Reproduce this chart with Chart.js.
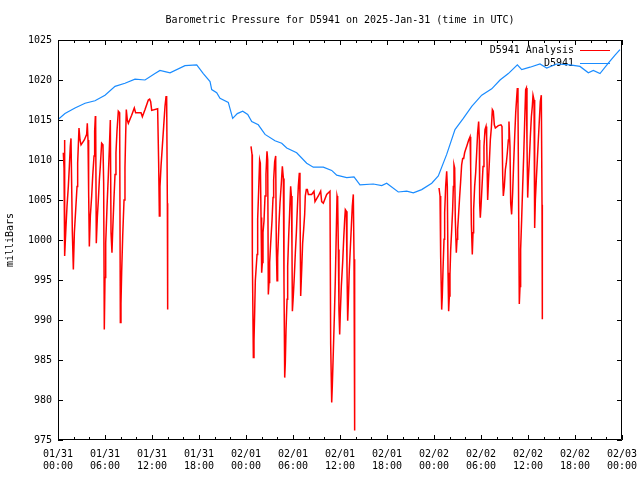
<!DOCTYPE html>
<html>
<head>
<meta charset="utf-8">
<script src="https://cdn.jsdelivr.net/npm/chart.js@4"></script>
<style>
  html, body { margin: 0; padding: 0; background: #fff; }
</style>
</head>
<body>
<canvas id="pressureChart" width="640" height="480"></canvas>
<script>
// ------------------- Data (hours since 2025-01-31 00:00 UTC, milliBars) -------------------
const titleText = "Barometric Pressure for D5941 on 2025-Jan-31 (time in UTC)";
const dayLabels = ["01/31", "02/01", "02/02", "02/03"];
const yTicks = [975, 980, 985, 990, 995, 1000, 1005, 1010, 1015, 1020, 1025];

// analysis series, null marks a gap with no data
const analysisHours = [
  0.68,0.77,0.81,0.89,1.02,1.15,1.32,1.45,1.57,1.66,1.83,1.96,2.09,2.26,2.43,2.51,2.68,2.81,2.94,3.36,
  3.66,3.74,3.83,3.91,4.00,4.13,4.30,4.43,4.60,4.68,4.77,4.81,4.89,5.02,5.15,5.28,5.40,5.57,5.74,5.83,
  5.91,6.00,6.09,6.26,6.43,6.55,6.68,6.77,6.89,6.98,7.15,7.28,7.40,7.53,7.70,7.87,7.96,8.04,8.13,8.26,
  8.43,8.55,8.64,8.72,8.85,8.98,9.40,9.74,9.91,10.60,10.77,11.11,11.53,11.70,11.83,11.96,12.72,12.85,12.94,13.02,
  13.15,13.32,13.49,13.66,13.79,13.87,13.96,14.00,
  18,
  24.64,24.77,24.81,24.94,25.02,25.11,25.19,25.41,25.49,25.62,25.74,25.83,25.92,26.00,26.09,26.17,26.30,26.43,26.55,26.68,
  26.77,26.85,26.94,27.02,27.15,27.32,27.45,27.53,27.66,27.79,27.87,27.96,28.04,28.21,28.34,28.51,28.64,28.77,28.85,28.94,
  29.02,29.11,29.24,29.32,29.45,29.57,29.70,29.79,29.87,29.92,30.04,30.17,30.30,30.43,30.55,30.68,30.81,30.89,30.98,31.11,
  31.23,31.36,31.49,31.57,31.70,31.83,31.96,32.38,32.68,32.81,33.23,33.53,33.66,33.87,34.30,34.72,34.81,34.94,35.02,35.15,
  35.28,35.40,35.49,35.62,35.70,35.79,35.87,35.96,36.04,36.17,36.34,36.47,36.60,36.68,36.81,36.89,36.98,37.06,37.19,37.32,
  37.45,37.57,37.70,37.79,37.87,
  42,
  48.64,48.77,48.85,48.98,49.06,49.15,49.28,49.36,49.49,49.62,49.70,49.79,49.87,49.96,50.04,50.13,50.26,50.38,50.47,50.55,
  50.64,50.72,50.85,50.94,51.02,51.15,51.28,51.40,51.53,51.66,51.79,51.91,52.04,52.17,52.30,52.43,52.60,52.68,52.77,52.89,
  52.98,53.06,53.19,53.32,53.45,53.57,53.70,53.79,53.83,53.91,54.00,54.13,54.26,54.38,54.51,54.64,54.72,54.85,54.94,55.06,
  55.19,55.32,55.45,55.57,55.70,55.83,56.21,56.55,56.68,56.77,56.85,56.98,57.11,57.23,57.36,57.49,57.57,57.70,57.79,57.91,
  58.04,58.17,58.30,58.43,58.55,58.64,58.72,58.81,58.89,58.98,59.06,59.19,59.32,59.45,59.57,59.70,59.79,59.87,59.96,60.04,
  60.17,60.30,60.43,60.55,60.64,60.77,60.85,60.94,61.06,61.19,61.32,61.45,61.57,61.70,61.79,61.83
];
const analysisMb = [
  1010.9,1009.0,1012.5,998.0,1001.7,1004.2,1006.7,1009.2,1011.7,1012.7,1001.0,996.3,1000.9,1003.8,1006.7,1009.6,1014.0,1012.5,1011.9,1012.5,
  1013.2,1014.6,1012.5,1006.1,999.2,1003.0,1005.5,1008.0,1010.5,1013.6,1015.5,1014.4,999.6,1002.8,1005.0,1007.5,1009.2,1012.1,1011.9,1007.1,
  988.8,995.3,999.6,1004.2,1008.2,1011.3,1015.0,1000.9,998.4,1001.1,1005.3,1008.2,1010.9,1013.6,1016.1,1015.9,989.7,992.0,996.1,1000.5,
  1005.0,1009.0,1013.2,1016.3,1015.0,1014.6,1015.6,1016.5,1015.9,1015.9,1015.4,1016.3,1017.5,1017.6,1017.3,1016.2,1016.4,1009.6,1003.0,1006.7,
  1009.2,1011.7,1014.2,1016.7,1017.9,1018.0,1004.6,991.3,
  null,
  1011.7,1010.7,998.0,985.3,987.4,991.1,994.9,998.2,1002.6,1006.3,1010.0,1009.6,1002.8,995.9,997.2,1000.9,1002.4,1005.5,1008.2,1011.1,
  1010.0,993.2,994.7,997.2,999.6,1002.4,1005.3,1007.5,1009.8,1010.5,999.2,994.9,997.8,1002.1,1004.6,1007.1,1009.2,1007.7,994.7,982.8,
  984.7,988.8,992.6,996.7,1000.5,1003.4,1006.7,1005.5,999.0,991.1,993.0,995.5,998.4,1000.9,1003.8,1006.7,1008.4,1005.5,993.0,996.3,
  999.6,1001.3,1003.2,1005.5,1006.3,1006.3,1005.7,1005.7,1006.1,1004.8,1005.5,1006.1,1004.8,1004.6,1005.7,1006.1,987.0,979.7,981.8,986.1,
  990.5,994.9,999.2,1005.5,1005.1,998.8,991.1,988.2,990.9,994.2,997.2,1000.1,1002.6,1003.8,1003.6,996.7,989.9,992.2,996.3,999.0,
  1001.7,1004.2,1005.7,997.6,976.2,
  null,
  1006.5,1005.5,998.0,991.3,993.0,996.3,1000.1,1003.4,1006.7,1008.6,1006.7,995.9,991.1,993.0,995.7,998.8,1001.3,1003.8,1006.7,1009.4,
  1009.0,1002.6,998.4,1000.1,1001.3,1003.4,1005.5,1007.3,1009.4,1010.2,1010.2,1010.9,1011.3,1011.7,1012.1,1012.5,1012.9,1009.2,1001.9,998.2,
  1000.9,1003.8,1006.7,1008.4,1010.9,1013.4,1014.8,1012.5,1004.6,1002.8,1004.2,1006.7,1009.2,1011.7,1013.8,1014.2,1012.9,1005.0,1007.1,1009.6,
  1012.5,1014.0,1016.3,1016.1,1014.4,1014.0,1014.3,1014.4,1014.2,1008.0,1005.5,1006.7,1008.8,1009.6,1010.9,1012.5,1014.8,1011.7,1004.6,1003.2,
  1005.9,1009.6,1012.9,1015.9,1017.7,1019.0,1017.1,1003.4,992.0,994.2,998.8,1002.6,1006.7,1010.5,1014.6,1018.8,1019.0,1012.1,1005.3,1007.5,
  1010.0,1012.9,1015.4,1016.7,1018.1,1017.5,1001.5,1005.0,1007.5,1010.0,1012.5,1015.0,1017.3,1018.1,1004.4,990.1
];

// station series
const stationHours = [
  0.04,0.89,2.17,3.45,4.72,6.00,7.28,8.55,9.83,11.11,12.38,13.02,14.30,16.21,17.71,18.55,19.41,19.62,20.26,20.68,
  21.74,22.30,22.89,23.58,24.22,24.73,25.57,26.43,27.70,28.56,29.20,30.47,31.75,32.59,33.87,34.94,35.58,36.86,37.79,38.55,
  40.25,41.33,41.96,43.44,44.52,45.36,46.43,47.71,48.55,49.62,50.68,51.74,52.82,54.09,55.37,56.43,57.49,58.64,59.20,60.26,
  61.53,62.39,63.66,65.36,66.64,67.70,68.34,69.19,70.25,71.11,71.74
];
const stationMb = [
  1015.1,1015.8,1016.5,1017.1,1017.4,1018.1,1019.2,1019.6,1020.1,1020.0,1020.8,1021.2,1020.9,1021.8,1021.9,1020.8,1019.8,1018.8,1018.4,1017.7,
  1017.2,1015.2,1015.8,1016.1,1015.7,1014.8,1014.4,1013.2,1012.4,1012.1,1011.5,1010.9,1009.6,1009.1,1009.1,1008.7,1008.1,1007.8,1007.9,1006.9,
  1007.0,1006.8,1007.1,1006.0,1006.1,1005.9,1006.3,1007.1,1008.0,1010.7,1013.8,1015.2,1016.7,1018.1,1018.9,1020.0,1020.8,1021.9,1021.3,1021.6,
  1022.0,1021.5,1022.0,1021.9,1021.7,1020.9,1021.2,1020.8,1022.1,1023.1,1023.8
];

const FONT = { family: "'DejaVu Sans Mono', 'Liberation Mono', monospace", size: 10 };

// ------------------- Plugins: title, legend inside plot, frame with inward ticks -------------------
const gnuplotLook = {
  id: 'gnuplotLook',
  beforeDatasetsDraw(chart) {
    const { ctx, chartArea: a } = chart;
    ctx.save();
    ctx.font = FONT.size + "px " + FONT.family;
    ctx.fillStyle = "#000";
    ctx.textAlign = "center";
    ctx.textBaseline = "middle";
    ctx.fillText(titleText, (a.left + a.right) / 2, 20);

    // key, top right
    ctx.textAlign = "right";
    chart.data.datasets.forEach((ds, i) => {
      const yy = 50 + i * 13;
      ctx.fillStyle = "#000";
      ctx.fillText(ds.label, a.right - 48, yy);
      ctx.strokeStyle = ds.borderColor;
      ctx.lineWidth = 1;
      ctx.beginPath();
      ctx.moveTo(a.right - 42, Math.round(yy) + 0.5);
      ctx.lineTo(a.right - 12, Math.round(yy) + 0.5);
      ctx.stroke();
    });
    ctx.restore();
  },
  afterDatasetsDraw(chart) {
    const { ctx, chartArea: a, scales } = chart;
    ctx.save();
    ctx.strokeStyle = "#000";
    ctx.lineWidth = 1;
    ctx.beginPath();
    ctx.rect(a.left + 0.5, a.top + 0.5, a.right - a.left - 1, a.bottom - a.top - 1);
    scales.x.ticks.forEach(t => {
      const px = Math.round(scales.x.getPixelForValue(t.value)) + 0.5;
      const len = t.value % 6 === 0 ? 5 : 3;
      ctx.moveTo(px, a.bottom); ctx.lineTo(px, a.bottom - len);
      ctx.moveTo(px, a.top); ctx.lineTo(px, a.top + len);
    });
    scales.y.ticks.forEach(t => {
      const py = Math.round(scales.y.getPixelForValue(t.value)) + 0.5;
      ctx.moveTo(a.left, py); ctx.lineTo(a.left + 5, py);
      ctx.moveTo(a.right, py); ctx.lineTo(a.right - 5, py);
    });
    ctx.stroke();
    ctx.restore();
  }
};

const ctx = document.getElementById("pressureChart").getContext("2d");
new Chart(ctx, {
  type: 'line',
  data: {
    datasets: [{
      label: "D5941 Analysis",
      data: analysisHours.map((h, i) => ({ x: h, y: analysisMb[i] })),
      borderColor: "#ff0000",
      borderWidth: 1.5,
      pointRadius: 0,
      spanGaps: false,
      tension: 0
    }, {
      label: "D5941",
      data: stationHours.map((h, i) => ({ x: h, y: stationMb[i] })),
      borderColor: "#1a8cff",
      borderWidth: 1.2,
      pointRadius: 0,
      tension: 0
    }]
  },
  options: {
    responsive: false,
    animation: false,
    layout: { padding: { top: 40, right: 18, left: 0, bottom: 0 } },
    plugins: { legend: { display: false }, title: { display: false }, tooltip: { enabled: false } },
    scales: {
      x: {
        type: 'linear',
        min: 0,
        max: 72,
        grid: { display: false, drawTicks: false },
        border: { display: false },
        afterFit: s => { s.height = 40; s.paddingLeft = 0; s.paddingRight = 0; },
        afterBuildTicks: s => {
          s.ticks = [];
          for (let h = 0; h <= 72; h += 2) s.ticks.push({ value: h });
        },
        ticks: {
          autoSkip: false,
          maxRotation: 0,
          padding: 8,
          color: "#000",
          font: FONT,
          callback: v => v % 6 === 0
            ? [dayLabels[Math.floor(v / 24)], String(v % 24).padStart(2, "0") + ":00"]
            : ""
        }
      },
      y: {
        min: 975,
        max: 1025,
        grid: { display: false, drawTicks: false },
        border: { display: false },
        afterFit: s => { s.width = 58; s.paddingTop = 0; s.paddingBottom = 0; },
        afterBuildTicks: s => { s.ticks = yTicks.map(v => ({ value: v })); },
        ticks: { padding: 6, color: "#000", font: FONT, callback: v => String(v) },
        title: { display: true, text: "milliBars", color: "#000", font: FONT, padding: { top: 4, bottom: 0 } }
      }
    }
  },
  plugins: [gnuplotLook]
});
</script>
</body>
</html>
